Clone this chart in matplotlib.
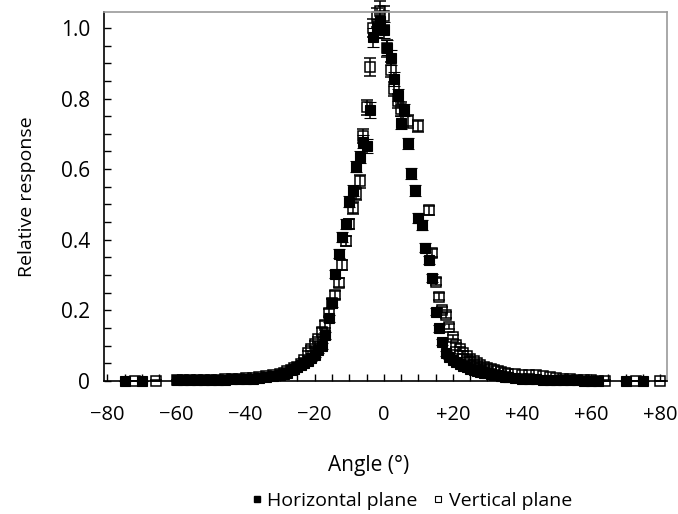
import matplotlib
matplotlib.use("Agg")
import matplotlib.pyplot as plt
from matplotlib.lines import Line2D
from matplotlib.ticker import MultipleLocator, FuncFormatter

plt.rcParams['font.family'] = ['Open Sans', 'DejaVu Sans']

# Horizontal plane (filled squares)
h_angle = [-75, -70,
           -60, -58, -56, -54, -52, -50, -48, -46, -44, -42, -40, -38, -36, -34, -32, -30,
           -29, -28, -27, -26, -25, -24, -23, -22, -21, -20,
           -19, -18, -17, -16, -15, -14, -13, -12, -11, -10,
           -9, -8, -7, -6, -5, -4, -3, -2, -1, 0,
           1, 2, 3, 4, 5, 6, 7, 8, 9, 10,
           11, 12, 13, 14, 15, 16, 17, 18, 19, 20,
           21, 22, 23, 24, 25, 26, 27, 28, 29, 30,
           31, 32, 33, 34, 35, 36,
           38, 40, 42, 44, 46, 48, 50, 52, 54, 56, 58, 60, 62,
           70, 75]
h_resp = [0.0, 0.0,
          0.002, 0.002, 0.002, 0.003, 0.003, 0.003, 0.004, 0.004, 0.005, 0.005, 0.006, 0.007, 0.009, 0.011, 0.013, 0.016,
          0.019, 0.024, 0.030, 0.034, 0.040, 0.045, 0.052, 0.058, 0.064, 0.074,
          0.088, 0.100, 0.130, 0.178, 0.222, 0.303, 0.361, 0.409, 0.445, 0.508,
          0.539, 0.607, 0.634, 0.678, 0.666, 0.768, 0.973, 1.000, 1.020, 0.994,
          0.944, 0.916, 0.856, 0.810, 0.732, 0.768, 0.673, 0.588, 0.540, 0.461,
          0.442, 0.378, 0.343, 0.291, 0.196, 0.149, 0.111, 0.078, 0.068, 0.060,
          0.054, 0.048, 0.043, 0.039, 0.035, 0.032, 0.029, 0.026, 0.024, 0.022,
          0.020, 0.018, 0.016, 0.014, 0.012, 0.011,
          0.009, 0.007, 0.006, 0.005, 0.004, 0.004, 0.003, 0.003, 0.002, 0.002, 0.001, 0.001, 0.001,
          0.0, 0.0]
h_err = [0.001, 0.001,
         0.002, 0.002, 0.002, 0.002, 0.002, 0.002, 0.002, 0.002, 0.002, 0.002, 0.002, 0.002, 0.003, 0.003, 0.003, 0.003,
         0.003, 0.004, 0.004, 0.004, 0.005, 0.005, 0.005, 0.006, 0.006, 0.007,
         0.008, 0.008, 0.010, 0.010, 0.012, 0.012, 0.013, 0.014, 0.014, 0.015,
         0.016, 0.016, 0.017, 0.018, 0.020, 0.022, 0.028, 0.026, 0.025, 0.024,
         0.022, 0.020, 0.020, 0.018, 0.018, 0.017, 0.016, 0.016, 0.015, 0.014,
         0.014, 0.013, 0.012, 0.011, 0.010, 0.009, 0.008, 0.007, 0.006, 0.005,
         0.005, 0.004, 0.004, 0.004, 0.003, 0.003, 0.003, 0.003, 0.003, 0.003,
         0.002, 0.002, 0.002, 0.002, 0.002, 0.002,
         0.002, 0.002, 0.002, 0.002, 0.002, 0.002, 0.002, 0.002, 0.002, 0.002, 0.002, 0.002, 0.002,
         0.001, 0.001]

# Vertical plane (open squares)
v_angle = [-72, -66,
           -60, -58, -56, -54, -52, -50, -48, -46, -44, -42, -40, -38, -36, -34, -32, -30,
           -29, -28, -27, -26, -25, -24, -23, -22, -21, -20,
           -19, -18, -17, -16, -15, -14, -13, -12, -11, -10,
           -9, -8, -7, -6, -5, -4, -3, -2, -1, 0,
           1, 2, 3, 4, 5,
           7, 10,
           13, 14, 15, 16, 17, 18, 19, 20, 21, 22, 23, 24,
           25, 26, 27, 28, 29, 30, 31, 32, 33, 34, 35, 36,
           38, 40, 42, 44, 46, 48, 50, 52, 54, 56, 58, 60, 62, 64,
           73, 80]
v_resp = [0.0, 0.001,
          0.002, 0.002, 0.003, 0.003, 0.003, 0.004, 0.004, 0.005, 0.006, 0.007, 0.008, 0.009, 0.011, 0.013, 0.016, 0.020,
          0.023, 0.027, 0.031, 0.036, 0.041, 0.048, 0.060, 0.078, 0.092, 0.105,
          0.118, 0.140, 0.159, 0.192, 0.220, 0.244, 0.278, 0.329, 0.397, 0.445,
          0.490, 0.530, 0.565, 0.695, 0.775, 0.890, 1.000, 1.030, 1.048, 1.035,
          0.942, 0.882, 0.826, 0.794, 0.770,
          0.735, 0.722,
          0.484, 0.363, 0.281, 0.239, 0.201, 0.187, 0.154, 0.124, 0.102, 0.090, 0.080, 0.071,
          0.063, 0.057, 0.051, 0.046, 0.041, 0.037, 0.033, 0.030, 0.027, 0.025, 0.023, 0.021,
          0.019, 0.018, 0.017, 0.016, 0.013, 0.010, 0.008, 0.006, 0.005, 0.004, 0.003, 0.002, 0.001, 0.001,
          0.0, 0.0]
v_err = [0.001, 0.001,
         0.002, 0.002, 0.002, 0.002, 0.002, 0.002, 0.002, 0.002, 0.002, 0.002, 0.002, 0.002, 0.003, 0.003, 0.003, 0.003,
         0.003, 0.004, 0.004, 0.004, 0.005, 0.005, 0.005, 0.006, 0.007, 0.008,
         0.008, 0.009, 0.010, 0.011, 0.012, 0.012, 0.013, 0.014, 0.015, 0.015,
         0.016, 0.017, 0.018, 0.020, 0.022, 0.025, 0.026, 0.027, 0.028, 0.026,
         0.024, 0.022, 0.020, 0.020, 0.019,
         0.018, 0.018,
         0.013, 0.012, 0.010, 0.009, 0.008, 0.008, 0.007, 0.006, 0.005, 0.005, 0.004, 0.004,
         0.004, 0.003, 0.003, 0.003, 0.003, 0.003, 0.002, 0.002, 0.002, 0.002, 0.002, 0.002,
         0.002, 0.002, 0.002, 0.002, 0.002, 0.002, 0.002, 0.002, 0.002, 0.002, 0.002, 0.002, 0.001, 0.001,
         0.001, 0.001]

x_ticks = [-80, -60, -40, -20, 0, 20, 40, 60, 80]
y_ticks = [0, 0.2, 0.4, 0.6, 0.8, 1.0]

fig = plt.figure(figsize=(6.78, 5.14), dpi=100)
ax = fig.add_axes([104 / 678, 133 / 514, 563 / 678, 369 / 514])

ax.errorbar(v_angle, v_resp, yerr=v_err, fmt='s', ms=7.5, mfc='none', mec='black', mew=1.1,
            ecolor='black', elinewidth=1.1, capsize=4, capthick=1.1, clip_on=False,
            label='Vertical plane')
ax.errorbar(h_angle, h_resp, yerr=h_err, fmt='s', ms=6.5, mfc='black', mec='black', mew=0.8,
            ecolor='black', elinewidth=1.1, capsize=4, capthick=1.1, clip_on=False,
            label='Horizontal plane')

ax.set_xlim(-81, 82)
ax.set_ylim(0, 1.045)
ax.set_xticks(x_ticks)
ax.set_yticks(y_ticks)
ax.xaxis.set_minor_locator(MultipleLocator(5))
ax.yaxis.set_minor_locator(MultipleLocator(0.05))


def fmt_x(v, pos):
    v = int(round(v))
    if v > 0:
        return '+%d' % v
    if v < 0:
        return '\u2212%d' % abs(v)
    return '0'


def fmt_y(v, pos):
    if abs(v) < 1e-9:
        return '0'
    return '%.1f' % v


ax.xaxis.set_major_formatter(FuncFormatter(fmt_x))
ax.yaxis.set_major_formatter(FuncFormatter(fmt_y))

ax.tick_params(axis='both', which='both', direction='in', length=5, width=1, color='black',
               top=False, right=False)
ax.tick_params(axis='x', which='major', labelsize=14.5, pad=17)
ax.tick_params(axis='y', which='major', labelsize=15, pad=10)

for s in ['left', 'bottom']:
    ax.spines[s].set_color('black')
    ax.spines[s].set_linewidth(1.2)
for s in ['top', 'right']:
    ax.spines[s].set_color('#9a9a9a')
    ax.spines[s].set_linewidth(1.2)

ax.set_xlabel('Angle (\u00b0)', fontsize=15)
ax.set_ylabel('Relative response', fontsize=14)
ax.xaxis.set_label_coords((369 - 104) / 563, -0.2)
ax.yaxis.set_label_coords(-0.12, 0.5)

handles = [Line2D([], [], ls='none', marker='s', ms=5, mfc='black', mec='black'),
           Line2D([], [], ls='none', marker='s', ms=5, mfc='white', mec='black', mew=0.8)]
fig.legend(handles, ['Horizontal plane', 'Vertical plane'], loc='center',
           bbox_to_anchor=(412 / 678, 1 - 501 / 514), ncol=2, frameon=False,
           fontsize=14, handlelength=0.5, handletextpad=0.3, columnspacing=0.8)

fig.savefig('out.png', dpi=100)
